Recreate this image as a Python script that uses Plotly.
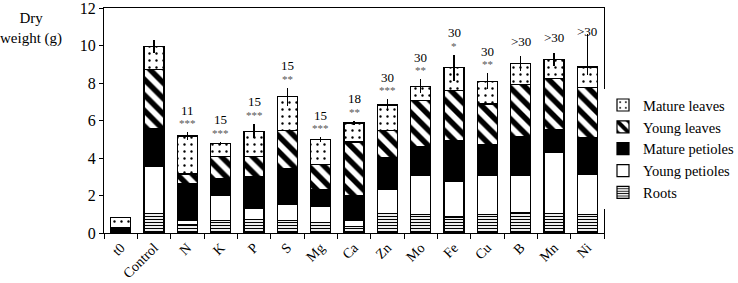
import plotly.graph_objects as go

categories = ["t0", "Control", "N", "K", "P", "S", "Mg", "Ca", "Zn", "Mo", "Fe", "Cu", "B", "Mn", "Ni"]

roots = [0.12, 1.05, 0.43, 0.66, 0.71, 0.67, 0.58, 0.35, 1.06, 0.97, 0.85, 0.97, 1.09, 1.02, 0.97]
young_petioles = [0.00, 2.49, 0.23, 1.37, 0.61, 0.88, 0.83, 0.30, 1.27, 2.08, 1.88, 2.12, 2.00, 3.28, 2.17]
mature_petioles = [0.18, 2.04, 1.99, 0.89, 1.68, 1.89, 0.92, 1.33, 1.69, 1.54, 2.21, 1.60, 2.03, 1.20, 1.94]
young_leaves = [0.00, 3.15, 0.50, 1.15, 1.09, 2.03, 1.32, 2.87, 1.45, 2.46, 2.64, 2.19, 2.78, 2.75, 2.68]
mature_leaves = [0.53, 1.22, 2.02, 0.71, 1.34, 1.80, 1.32, 1.02, 1.36, 0.78, 1.24, 1.22, 1.13, 1.01, 1.09]

err_plus = [0.05, 0.33, 0.22, 0.10, 0.40, 0.49, 0.14, 0.13, 0.30, 0.38, 0.70, 0.41, 0.40, 0.36, 1.75]
err_minus = [0.05, 0.33, 0.22, 0.10, 0.38, 0.49, 0.14, 0.13, 0.30, 0.38, 0.70, 0.41, 0.40, 0.36, 0.40]

days_labels = ["", "", "11", "15", "15", "15", "15", "18", "30", "30", "30", "30", ">30", ">30", ">30"]
star_labels = ["", "", "***", "***", "***", "**", "***", "**", "***", "**", "*", "**", "", "", ""]

y_ticks = [0, 2, 4, 6, 8, 10, 12]

FONT = "Liberation Serif"

fig = go.Figure()

series = [
    ("Roots", roots, dict(shape="-", size=3, solidity=0.38)),
    ("Young petioles", young_petioles, None),
    ("Mature petioles", mature_petioles, "black"),
    ("Young leaves", young_leaves, dict(shape="\\", size=11, solidity=0.5)),
    ("Mature leaves", mature_leaves, dict(shape=".", size=7, solidity=0.09)),
]

for name, vals, style in series:
    marker = dict(color="white", line=dict(color="black", width=1.2))
    if style == "black":
        marker["color"] = "black"
    elif isinstance(style, dict):
        marker["pattern"] = dict(fgcolor="black", bgcolor="white", fillmode="replace", **style)
    kw = {}
    if name == "Mature leaves":
        kw["error_y"] = dict(type="data", symmetric=False, array=err_plus, arrayminus=err_minus,
                             color="black", thickness=1.2, width=0)
    fig.add_trace(go.Bar(x=categories, y=vals, name=name, marker=marker, width=0.6,
                         legendgroup=name, **kw))

totals = [r + yp + mp + yl + ml for r, yp, mp, yl, ml in
          zip(roots, young_petioles, mature_petioles, young_leaves, mature_leaves)]

annotations = []
for cat, tot, ep, d, s in zip(categories, totals, err_plus, days_labels, star_labels):
    top = tot + ep
    if s:
        annotations.append(dict(x=cat, y=top + 0.48, text=s, showarrow=False, xref="x", yref="y",
                                font=dict(family=FONT, size=11, color="#555555"), yanchor="middle"))
        annotations.append(dict(x=cat, y=top + 1.17, text=d, showarrow=False, xref="x", yref="y",
                                font=dict(family=FONT, size=13, color="black"), yanchor="middle"))
    elif d:
        annotations.append(dict(x=cat, y=min(top + 0.8, 10.75), text=d, showarrow=False, xref="x", yref="y",
                                font=dict(family=FONT, size=13, color="black"), yanchor="middle"))

annotations.append(dict(x=-0.146, y=0.91, xref="paper", yref="paper", text="Dry<br>weight (g)",
                        showarrow=False, font=dict(family=FONT, size=15, color="black"),
                        xanchor="center", yanchor="middle", align="center"))

fig.update_layout(
    width=738, height=283,
    margin=dict(l=104, r=134, t=8, b=50, autoexpand=False),
    barmode="stack",
    plot_bgcolor="white",
    paper_bgcolor="white",
    font=dict(family=FONT, size=14, color="black"),
    annotations=annotations,
    legend=dict(x=0.998, y=0.373, xanchor="left", yanchor="middle",
                font=dict(family=FONT, size=14.5, color="black"),
                tracegroupgap=10, itemwidth=30, traceorder="reversed"),
    xaxis=dict(showline=True, linecolor="black", linewidth=1, mirror=True, automargin=False,
               ticks="outside", ticklen=5, tickcolor="black", tickson="boundaries",
               tickangle=-45, tickfont=dict(family=FONT, size=14), showgrid=False,
               ticklabeloverflow="allow"),
    yaxis=dict(range=[0, 12], tickmode="array", tickvals=y_ticks, showline=True, linecolor="black",
               linewidth=1, mirror=True, automargin=False, ticklabeloverflow="allow",
               ticks="outside", ticklen=4, tickcolor="black", showgrid=False, zeroline=False,
               tickfont=dict(family=FONT, size=16)),
)

fig.write_html("out.html", config={"displayModeBar": False},
               post_script="document.body.style.margin='0px';")
